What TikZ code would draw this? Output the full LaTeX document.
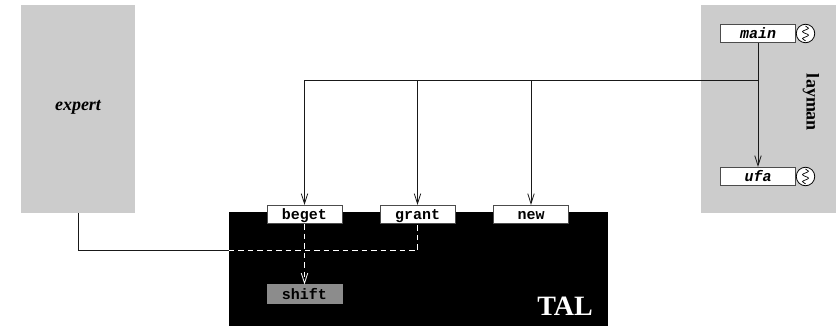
\documentclass[tikz,border=0pt]{standalone}
\usepackage{fontspec}
\setmainfont{Liberation Serif}
\setmonofont{Liberation Mono}
\usetikzlibrary{arrows.meta,decorations.pathmorphing}
\definecolor{panel}{gray}{0.8}
\definecolor{shiftgray}{gray}{0.55}
\tikzset{
  panelbox/.style={fill=panel,draw=none,inner sep=0pt,minimum width=#1,minimum height=207.5pt},
  fnbox/.style={draw=black!70,line width=0.7pt,fill=white,inner sep=0pt,minimum width=75pt,minimum height=18.5pt,text height=10.5pt,text depth=0pt,font=\fontsize{15}{15}\selectfont\ttfamily\bfseries},
  ifn/.style={fnbox,font=\fontsize{15}{15}\selectfont\ttfamily\bfseries\itshape},
  thread/.style={draw=black,fill=white,line width=0.8pt,circle,inner sep=0pt,minimum size=18.5pt},
  conn/.style={line width=0.9pt,black!90},
  tip/.style={-{Straight Barb[length=10pt,width=6.5pt,line width=0.8pt]}},
  whitedash/.style={white,line width=0.9pt,dash pattern=on 5.5pt off 4pt},
  squig/.style={line width=0.7pt,decorate,decoration={snake,amplitude=3pt,segment length=7pt,post length=0pt,pre length=0pt}}
}
\begin{document}
\begin{tikzpicture}[x=1pt,y=-1pt]
\useasboundingbox (0,0) rectangle (836,326);
\node[panelbox=114pt,anchor=north west] (expert) at (21,5) {};
\node[font=\fontsize{18}{18}\selectfont\bfseries\itshape] (expertl) at (78,107) {expert};
\node[panelbox=135pt,anchor=north west] (layman) at (701,5) {};
\node[rotate=-90,font=\fontsize{18}{18}\selectfont\bfseries] (laymanl) at (811,102.5) {layman};
\fill[black] (228.5,212) rectangle (607.5,326);
\node[text=white,inner sep=0pt,font=\fontsize{28}{28}\selectfont\bfseries,anchor=base east] (tal) at (593,315) {TAL};
\node[fnbox] (beget) at (304.5,214.5) {beget};
\node[fnbox] (grant) at (417.5,214.5) {grant};
\node[fnbox] (new) at (531,214.5) {new};
\node[fnbox,fill=shiftgray,draw=shiftgray] (shift) at (304.5,294) {shift};
\node[ifn] (main) at (758,33.5) {main};
\node[ifn] (ufa) at (758,176.5) {ufa};
\node[thread] (t1) at (805.5,33.5) {};
\node[thread] (t2) at (805.5,176.5) {};
\draw[squig] (805.5,26) -- (805.5,41);
\draw[squig] (805.5,169) -- (805.5,184);
\coordinate (j) at (758,80.5);
\coordinate (cross) at (228.5,250.5);
\coordinate (up) at (417.5,250.5);
\draw[conn,tip] (main) -- (ufa);
\draw[conn] (j) -- (beget |- j);
\draw[conn,tip] (beget |- j) -- (beget);
\draw[conn,tip] (grant |- j) -- (grant);
\draw[conn,tip] (new |- j) -- (new);
\draw[conn] (expert.south) |- (cross);
\draw[whitedash] (cross) -- (up) -- (grant.south);
\draw[whitedash,tip] (beget.south) -- (shift.north);
\end{tikzpicture}
\end{document}
